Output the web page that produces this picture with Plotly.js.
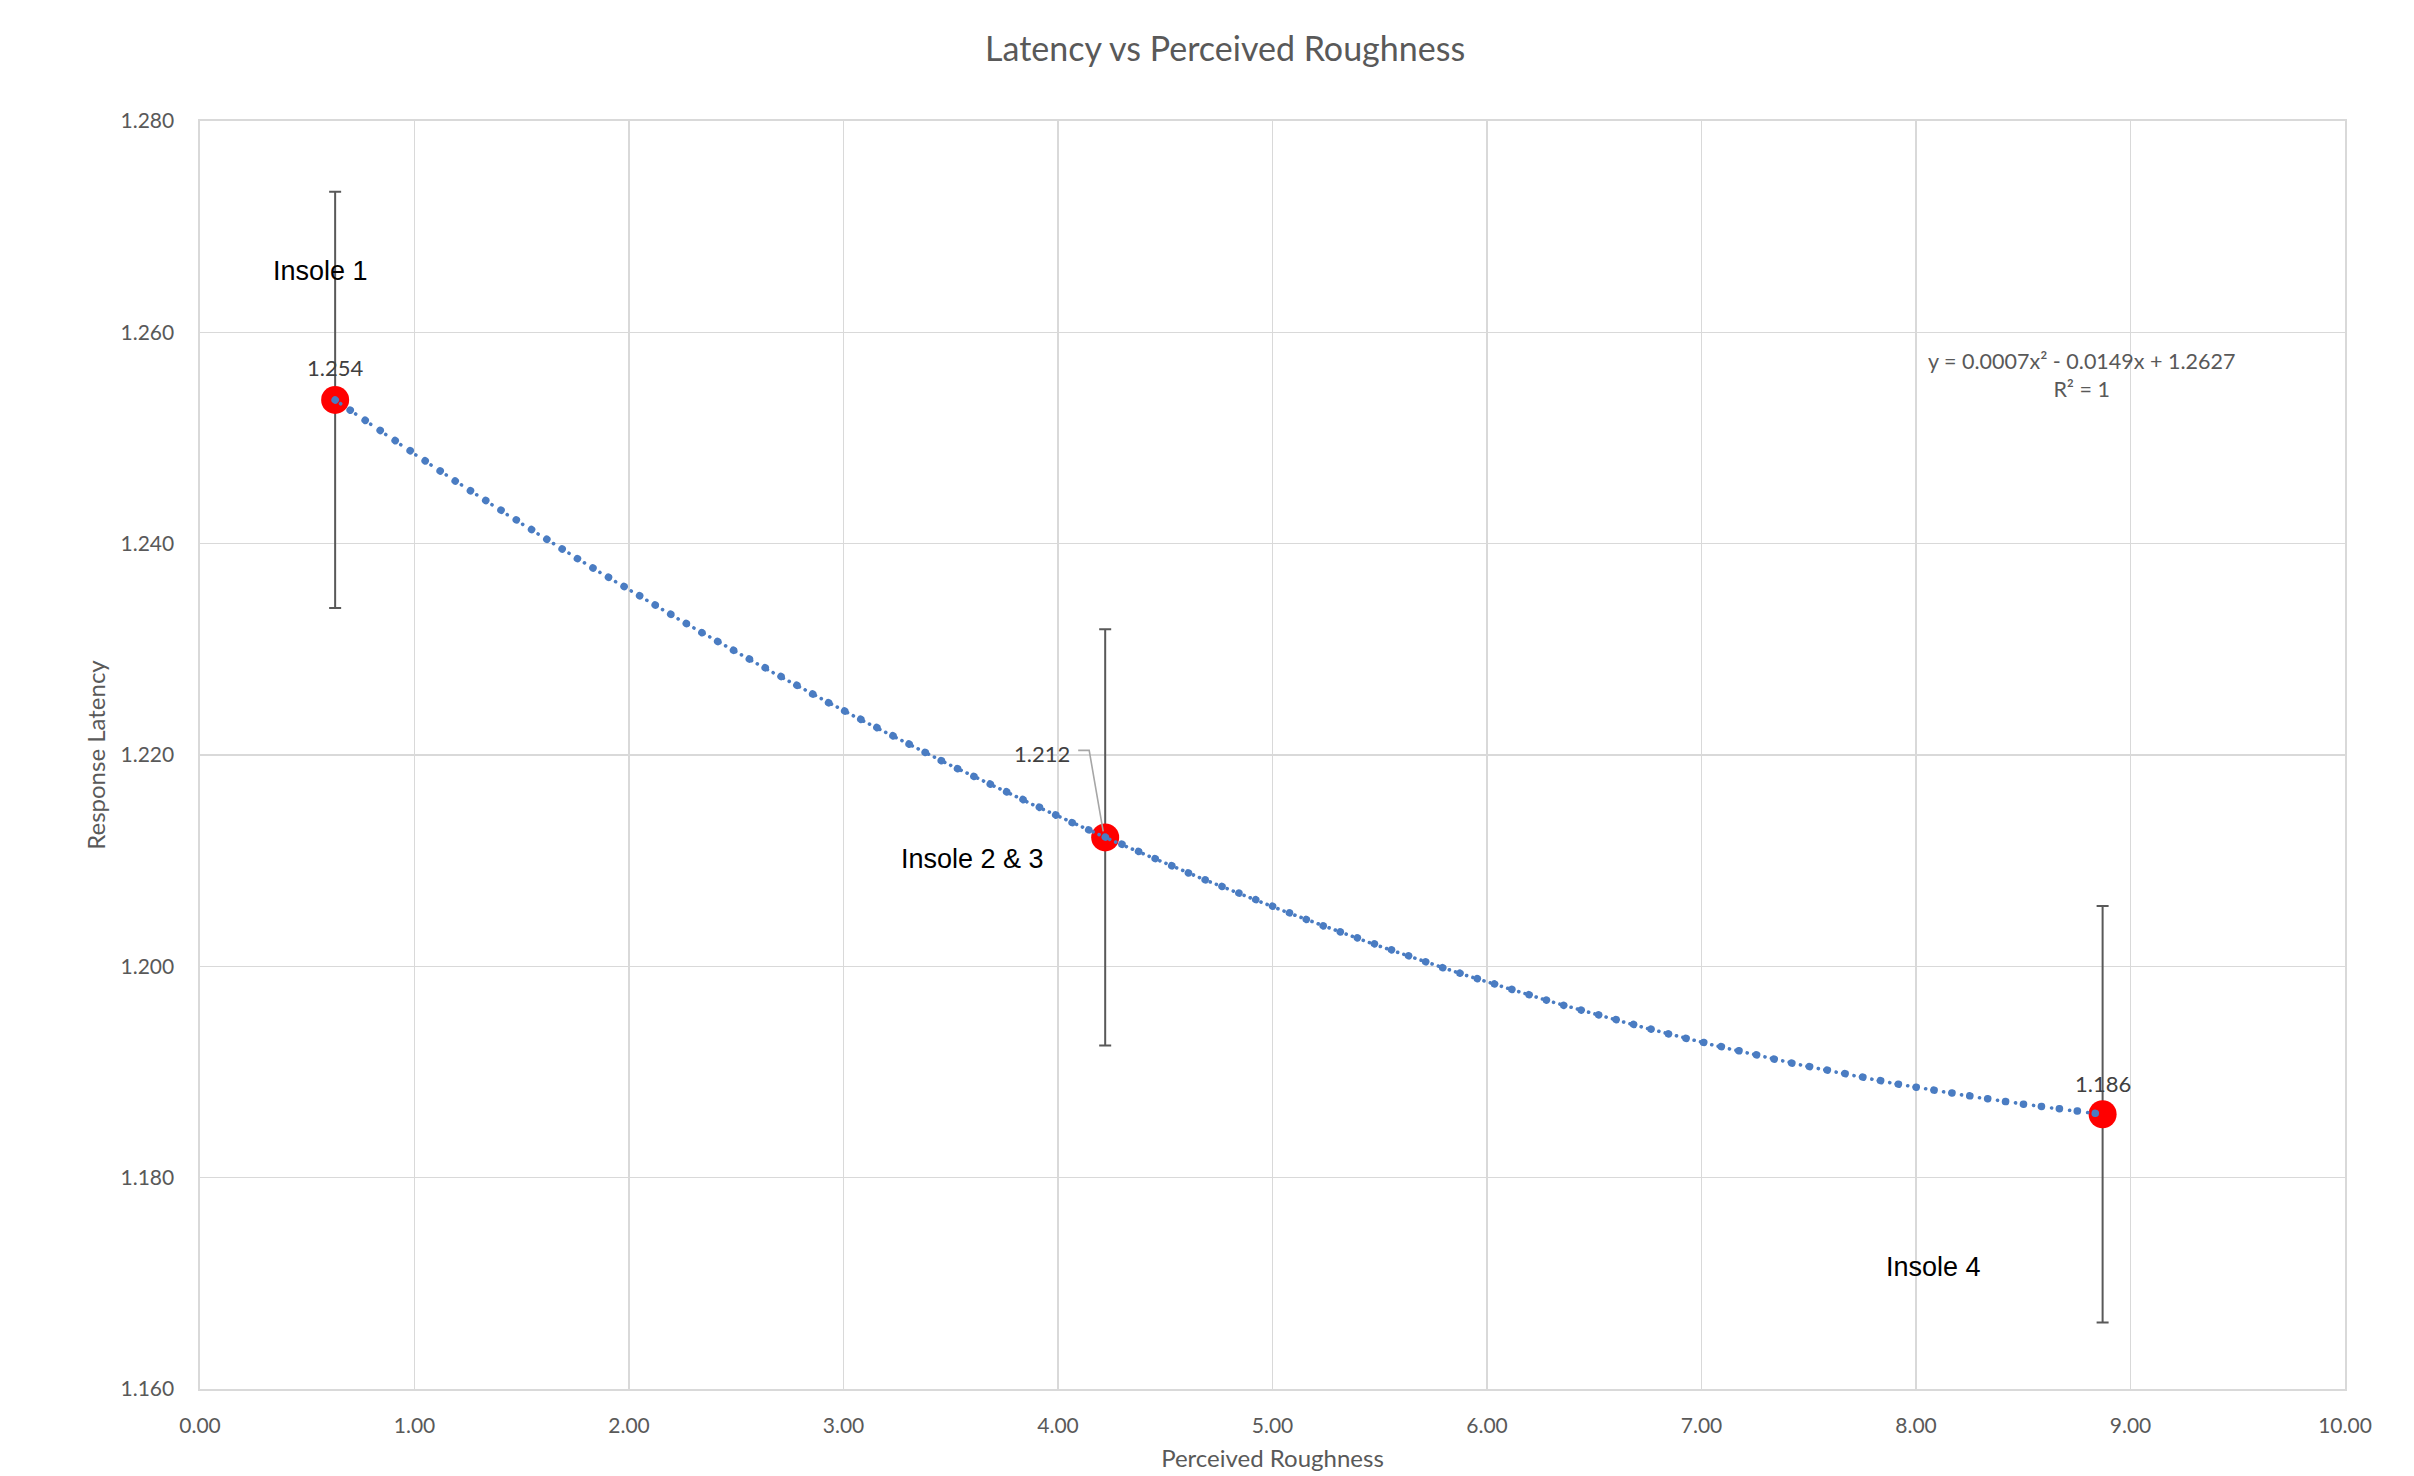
<!DOCTYPE html>
<html>
<head>
<meta charset="utf-8">
<script src="https://cdn.plot.ly/plotly-3.0.1.min.js"></script>
<style>
  html, body { margin: 0; padding: 0; background: #fff; }
  #chart { width: 2414px; height: 1476px; }
  .scatterlayer .js-line { stroke-linecap: round; }
</style>
</head>
<body>
<div id="chart"></div>
<script>
// ---- data ----
const insoleNames = ["Insole 1", "Insole 2 & 3", "Insole 4"];
const roughness = [0.63, 4.22, 8.87];
const latency = [1.2536, 1.2122, 1.1860];
const latencyError = [0.0197, 0.0197, 0.0197];
const equationText = "y = 0.0007x² - 0.0149x + 1.2627";
const rSquaredText = "R² = 1";
const xTickValues = [0, 1, 2, 3, 4, 5, 6, 7, 8, 9, 10];
const yTickValues = [1.16, 1.18, 1.20, 1.22, 1.24, 1.26, 1.28];

// ---- polynomial (order 2) trendline fitted through the data ----
function fitQuadratic(xs, ys) {
  const S = [0, 0, 0, 0, 0], T = [0, 0, 0];
  for (let i = 0; i < xs.length; i++) {
    let p = 1;
    for (let k = 0; k < 5; k++) { S[k] += p; if (k < 3) T[k] += p * ys[i]; p *= xs[i]; }
  }
  const A = [[S[0], S[1], S[2], T[0]], [S[1], S[2], S[3], T[1]], [S[2], S[3], S[4], T[2]]];
  for (let c = 0; c < 3; c++) {
    let piv = c;
    for (let r = c + 1; r < 3; r++) if (Math.abs(A[r][c]) > Math.abs(A[piv][c])) piv = r;
    [A[c], A[piv]] = [A[piv], A[c]];
    for (let r = 0; r < 3; r++) {
      if (r === c) continue;
      const f = A[r][c] / A[c][c];
      for (let k = c; k < 4; k++) A[r][k] -= f * A[c][k];
    }
  }
  return [A[0][3] / A[0][0], A[1][3] / A[1][1], A[2][3] / A[2][2]];
}
const coef = fitQuadratic(roughness, latency);
const trendX = [], trendY = [];
const x0 = Math.min(...roughness), x1 = Math.max(...roughness);
for (let i = 0; i <= 200; i++) {
  const x = x0 + (x1 - x0) * i / 200;
  trendX.push(x);
  trendY.push(coef[0] + coef[1] * x + coef[2] * x * x);
}

const FONT = "Lato, 'Open Sans', sans-serif";
const GREY = "#595959";
const BLUE = "#4a7cc2";

const traces = [
  {
    x: roughness, y: latency, type: "scatter", mode: "markers",
    marker: { color: "#ff0000", size: 28 },
    error_y: { type: "data", array: latencyError, visible: true, color: GREY, thickness: 2, width: 6 },
    hoverinfo: "skip", showlegend: false
  },
  {
    x: trendX, y: trendY, type: "scatter", mode: "lines",
    line: { color: BLUE, width: 3.6, dash: "0.1px,6.5px,0.1px,11.5px" },
    hoverinfo: "skip", showlegend: false
  },
  {
    x: trendX, y: trendY, type: "scatter", mode: "lines",
    line: { color: BLUE, width: 7.5, dash: "0.1px,18px" },
    hoverinfo: "skip", showlegend: false
  }
];

const annotations = [];
annotations.push({ x: roughness[0], y: latency[0], xref: "x", yref: "y", text: latency[0].toFixed(3),
  showarrow: false, yshift: 32, font: { family: FONT, size: 22, color: "#404040" } });
annotations.push({ x: roughness[1], y: latency[1], xref: "x", yref: "y", text: latency[1].toFixed(3),
  showarrow: false, xshift: -63, yshift: 84, font: { family: FONT, size: 22, color: "#404040" } });
annotations.push({ x: roughness[2], y: latency[2], xref: "x", yref: "y", text: latency[2].toFixed(3),
  showarrow: false, yshift: 31, font: { family: FONT, size: 22, color: "#404040" } });
const insolePos = [[0.56, 1.2658], [3.60, 1.2102], [8.08, 1.1715]];
insoleNames.forEach((name, i) => {
  annotations.push({ x: insolePos[i][0], y: insolePos[i][1], xref: "x", yref: "y", text: name,
    showarrow: false, font: { family: "'Liberation Sans', Arial, sans-serif", size: 27, color: "#000000" } });
});
annotations.push({ x: 0.877, y: 0.800, xref: "paper", yref: "paper", xanchor: "center", yanchor: "middle",
  text: equationText + "<br>" + rSquaredText,
  showarrow: false, align: "center", font: { family: FONT, size: 21.5, color: GREY } });

// leader line for the middle data label (pixel offsets from the point)
const shapes = [{
  type: "path", xref: "x", yref: "y", xsizemode: "pixel", ysizemode: "pixel",
  xanchor: roughness[1], yanchor: latency[1],
  path: "M -27 87 L -16 87 L -2 6",
  line: { color: "#a6a6a6", width: 1.6 }, layer: "above"
}];

const layout = {
  width: 2414, height: 1476,
  paper_bgcolor: "#ffffff", plot_bgcolor: "#ffffff",
  margin: { l: 200, r: 69, t: 121, b: 87 },
  font: { family: FONT, color: GREY },
  title: { text: "Latency vs Perceived Roughness", x: 0.5075, xanchor: "center", y: 0.967, yanchor: "middle",
    font: { family: FONT, size: 34, color: GREY } },
  showlegend: false,
  xaxis: {
    range: [0, 10], tickvals: xTickValues, tickformat: ".2f",
    showgrid: true, gridcolor: "#d9d9d9", gridwidth: 1.6,
    showline: true, linecolor: "#d9d9d9", linewidth: 1.6, mirror: true,
    zeroline: false, ticks: "", ticklabelstandoff: 17,
    tickfont: { family: FONT, size: 21, color: GREY },
    title: { text: "Perceived Roughness", font: { family: FONT, size: 24, color: GREY }, standoff: 14 }
  },
  yaxis: {
    range: [1.16, 1.28], tickvals: yTickValues, tickformat: ".3f",
    showgrid: true, gridcolor: "#d9d9d9", gridwidth: 1.6,
    showline: true, linecolor: "#d9d9d9", linewidth: 1.6, mirror: true,
    zeroline: false, ticks: "", ticklabelstandoff: 20,
    tickfont: { family: FONT, size: 21, color: GREY },
    title: { text: "Response Latency", font: { family: FONT, size: 24, color: GREY }, standoff: 8 }
  },
  shapes: shapes,
  annotations: annotations
};

Plotly.newPlot("chart", traces, layout, { staticPlot: true, displayModeBar: false });
</script>
</body>
</html>
